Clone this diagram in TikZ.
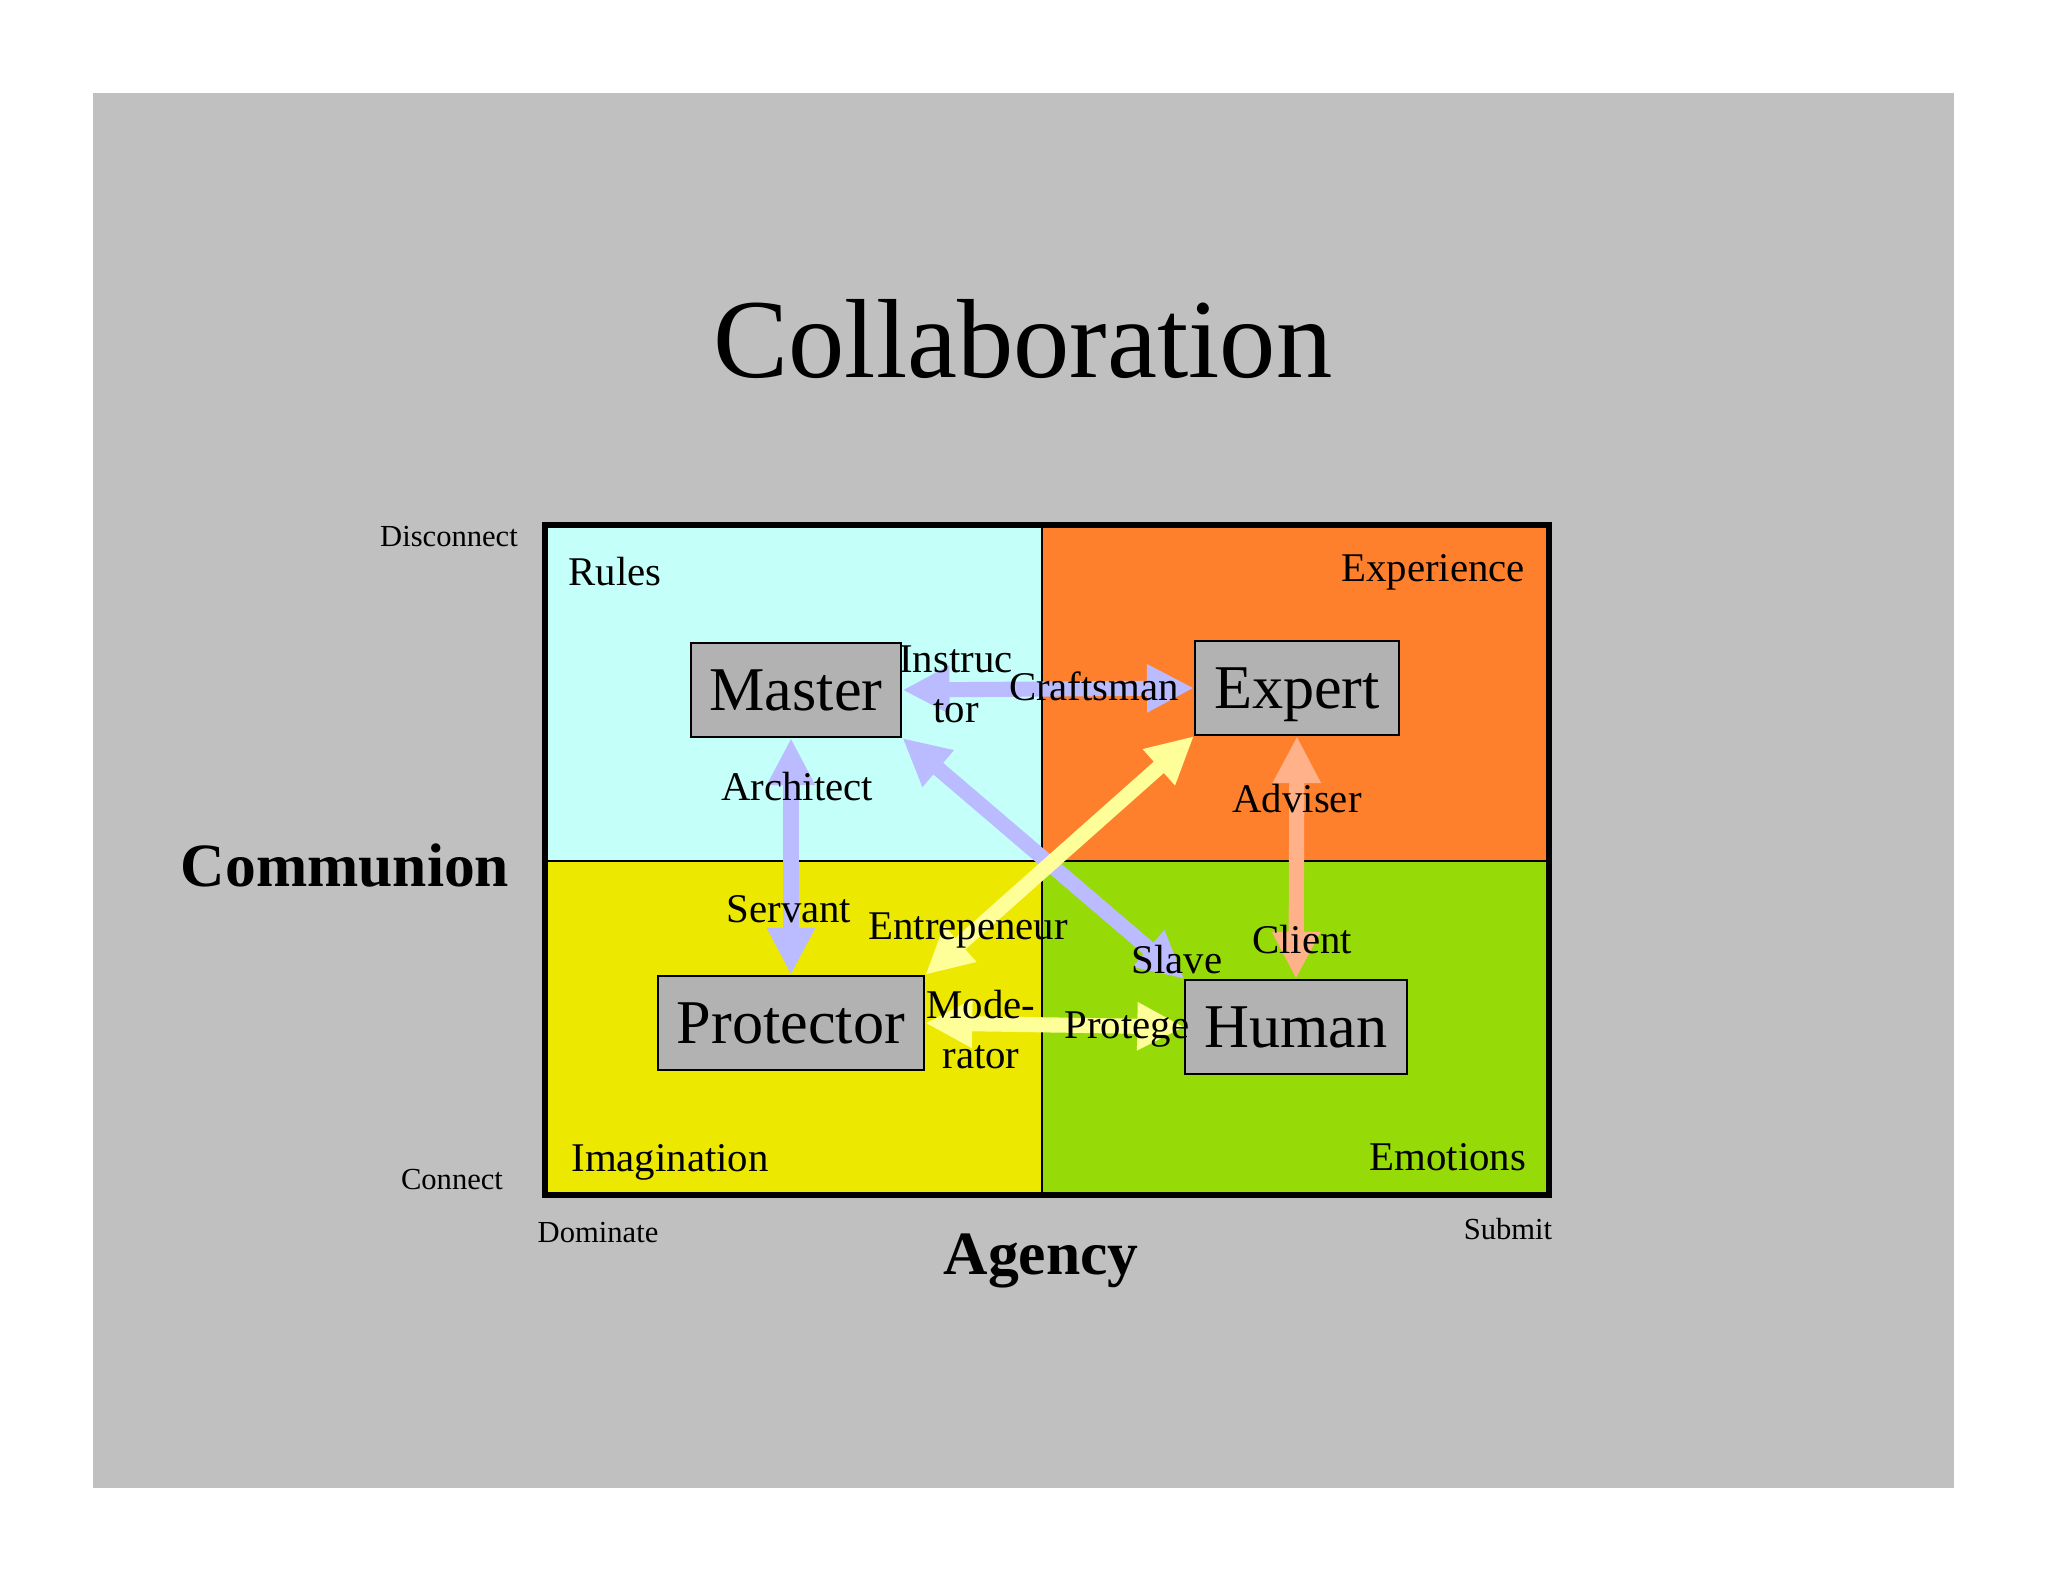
\documentclass[tikz,border=0pt]{standalone}
\usepackage{fontspec}
\setmainfont{Liberation Serif}
\usetikzlibrary{arrows.meta}

\definecolor{slide}{RGB}{192,192,192}
\definecolor{rulescol}{RGB}{196,255,250}
\definecolor{expcol}{RGB}{255,128,44}
\definecolor{imagcol}{RGB}{236,232,0}
\definecolor{emocol}{RGB}{150,218,8}
\definecolor{boxgray}{RGB}{178,178,178}
\definecolor{lav}{RGB}{187,187,255}
\definecolor{lemon}{RGB}{255,255,153}
\definecolor{peach}{RGB}{255,178,138}

\begin{document}
\begin{tikzpicture}[x=0.01cm, y=-0.01cm,
    persona/.style={draw, line width=0.6pt, fill=boxgray, font=\fontsize{17.7}{20}\selectfont,
      inner xsep=0.19cm, inner ysep=0pt, minimum height=0.94cm, text depth=0pt},
    tag/.style={font=\fontsize{11.6}{14.2}\selectfont, align=center, text depth=0pt},
    small/.style={font=\fontsize{8.7}{10}\selectfont, text depth=0pt},
    axis/.style={font=\bfseries\fontsize{17.5}{20}\selectfont, text depth=0pt},
    link/.style={line width=4.3pt, {Triangle[length=0.47cm, width=0.45cm]}-{Triangle[length=0.47cm, width=0.45cm]}}]
    \useasboundingbox (0,0) rectangle (2048,1582);
    \fill[white] (0,0) rectangle (2048,1582);
    \fill[slide] (93,93) rectangle (1954,1488);
    \node[font=\fontsize{32}{38}\selectfont, text depth=0pt] (title) at (1023,338) {Collaboration};

    % quadrants
    \fill[rulescol] (545,525) rectangle (1042,861);
    \fill[expcol] (1042,525) rectangle (1549,861);
    \fill[imagcol] (545,861) rectangle (1042,1195);
    \fill[emocol] (1042,861) rectangle (1549,1195);
    \draw[line width=0.6pt] (1042,525) -- (1042,1195);
    \draw[line width=0.6pt] (545,861) -- (1549,861);
    \draw[line width=1.8pt] (545,525) rectangle (1549,1195);

    \node[tag] (rules) at (615,571) {Rules};
    \node[tag] (experience) at (1433,568) {Experience};
    \node[tag] (imagination) at (670,1158) {Imagination};
    \node[tag] (emotions) at (1448,1157) {Emotions};

    % personas
    \node[persona] (master) at (796,690) {Master};
    \node[persona] (expert) at (1297,688) {Expert};
    \node[persona] (protector) at (791,1023) {Protector};
    \node[persona] (human) at (1296,1027) {Human};

    % relations
    \draw[link, lav] (master.south east) -- (human.north west);
    \draw[link, lemon] (expert.south west) -- (protector.north east);
    \draw[link, lav] (master.east) -- (expert.west);
    \draw[link, lav] (master.south -| protector.north) -- (protector.north);
    \draw[link, peach] (expert.south) -- (human.north);
    \draw[link, lemon] (protector.east) -- (human.west);

    \node[tag] (instructor) at (956,684) {Instruc\\tor};
    \node[tag] (craftsman) at (1094,686) {Craftsman};
    \node[tag] (architect) at (797,786) {Architect};
    \node[tag] (servant) at (789,909) {Servant};
    \node[tag] (entrepeneur) at (968,926) {Entrepeneur};
    \node[tag] (slave) at (1177,959) {Slave};
    \node[tag] (adviser) at (1297,798) {Adviser};
    \node[tag] (client) at (1302,939) {Client};
    \node[tag] (moderator) at (981,1029) {Mode-\\rator};
    \node[tag] (protege) at (1127,1025) {Protege};

    % axes
    \node[small] (disconnect) at (449,536) {Disconnect};
    \node[small] (connect) at (452,1179) {Connect};
    \node[small] (dominate) at (598,1232) {Dominate};
    \node[small] (submit) at (1508,1229) {Submit};
    \node[axis] (communion) at (345,865) {Communion};
    \node[axis] (agency) at (1041,1254) {Agency};
\end{tikzpicture}
\end{document}
